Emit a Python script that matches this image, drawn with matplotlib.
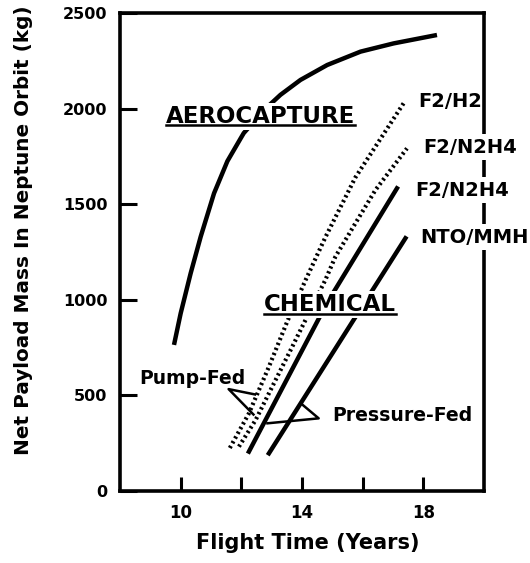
import matplotlib
matplotlib.use("Agg")
import matplotlib.pyplot as plt
from matplotlib.lines import Line2D

plt.rcParams['font.family'] = ['DejaVu Sans']
plt.rcParams['font.weight'] = 'bold'

# ---- data ----
aero_x = [9.78, 10.0, 10.33, 10.66, 11.10, 11.54, 11.98, 12.08, 12.80, 13.29, 13.95, 14.83, 15.93, 17.02, 18.45]
aero_y = [764, 929, 1139, 1330, 1557, 1725, 1845, 1872, 2000, 2072, 2150, 2228, 2298, 2341, 2385]

f2h2_x = [11.62, 12.25, 12.91, 13.51, 14.12, 14.78, 15.76, 17.35]
f2h2_y = [225, 406, 650, 885, 1104, 1330, 1640, 2028]

f2n2h4_pump_x = [11.92, 12.47, 13.02, 13.68, 14.17, 14.77, 15.10, 15.76, 16.42, 17.46]
f2n2h4_pump_y = [232, 371, 546, 755, 912, 1104, 1225, 1400, 1574, 1792]

f2n2h4_press_x = [12.25, 14.83, 17.13]
f2n2h4_press_y = [206, 985, 1583]

nto_mmh_x = [12.91, 17.41]
nto_mmh_y = [197, 1322]

pump_leader_x = [12.45, 11.58, 12.40]
pump_leader_y = [505, 533, 400]
press_leader_x = [13.95, 14.55, 12.86]
press_leader_y = [460, 380, 354]

x_ticks = [10, 12, 14, 16, 18]
x_ticklabels = ['10', '', '14', '', '18']
y_ticks = [0, 500, 1000, 1500, 2000, 2500]

fig = plt.figure(figsize=(5.30, 5.63), dpi=100)
ax = fig.add_axes([120/530, 1-491/563, 364/530, 478/563])

ax.plot(aero_x, aero_y, color='black', lw=3.2, solid_capstyle='butt', solid_joinstyle='round', zorder=2)
ax.plot(f2h2_x, f2h2_y, color='black', lw=3.0, linestyle=(0, (0.55, 0.75)), zorder=2)
ax.plot(f2n2h4_pump_x, f2n2h4_pump_y, color='black', lw=3.0, linestyle=(0, (0.55, 0.75)), zorder=2)
ax.plot(f2n2h4_press_x, f2n2h4_press_y, color='black', lw=3.2, zorder=2)
ax.plot(nto_mmh_x, nto_mmh_y, color='black', lw=3.2, zorder=2)
ax.plot(pump_leader_x, pump_leader_y, color='black', lw=1.8, zorder=2)
ax.plot(press_leader_x, press_leader_y, color='black', lw=1.8, zorder=2)

ax.set_xlim(8, 20)
ax.set_ylim(0, 2500)
ax.set_xticks(x_ticks)
ax.set_xticklabels(x_ticklabels)
ax.set_yticks(y_ticks)
ax.tick_params(axis='y', direction='in', length=12, width=2.2, pad=9, labelsize=11.5)
ax.tick_params(axis='x', direction='in', length=10, width=2.2, pad=9, labelsize=12)
for lab in ax.get_xticklabels() + ax.get_yticklabels():
    lab.set_fontweight('bold')
for s in ax.spines.values():
    s.set_linewidth(2.6)

ax.set_xlabel('Flight Time (Years)', fontsize=15, fontweight='bold')
ax.set_ylabel('Net Payload Mass In Neptune Orbit (kg)', fontsize=14.4, fontweight='bold')
ax.xaxis.set_label_coords(0.515, -0.088)
ax.yaxis.set_label_coords(-0.238, 0.546)

wb = dict(facecolor='white', edgecolor='none', pad=1.5)
t_aero = ax.text(9.51, 1960, 'AEROCAPTURE', fontsize=16.5, fontweight='bold',
                 va='center', ha='left', bbox=wb, zorder=3)
t_chem = ax.text(12.75, 975, 'CHEMICAL', fontsize=16.5, fontweight='bold',
                 va='center', ha='left', bbox=wb, zorder=3)

ax.text(8.65, 591, 'Pump-Fed', fontsize=13.5, fontweight='bold', va='center', ha='left', zorder=3)
ax.text(15.0, 397, 'Pressure-Fed', fontsize=13.6, fontweight='bold', va='center', ha='left', zorder=3)

rb = dict(facecolor='white', edgecolor='none', pad=2.5)
ax.text(17.83, 2035, 'F2/H2', fontsize=14, fontweight='bold', va='center', ha='left',
        clip_on=False, zorder=3)
ax.text(18.0, 1797, 'F2/N2H4', fontsize=14, fontweight='bold', va='center', ha='left',
        clip_on=False, bbox=rb, zorder=3)
ax.text(17.73, 1572, 'F2/N2H4', fontsize=14, fontweight='bold', va='center', ha='left',
        clip_on=False, bbox=rb, zorder=3)
ax.text(17.90, 1326, 'NTO/MMH', fontsize=14, fontweight='bold', va='center', ha='left',
        clip_on=False, bbox=rb, zorder=3)

# underline the two headings
fig.canvas.draw()
r = fig.canvas.get_renderer()
for t in (t_aero, t_chem):
    bb = t.get_window_extent(renderer=r)
    fs_px = t.get_fontsize() * fig.dpi / 72
    yl = bb.y0 + 0.236 * fs_px - 3.0
    x0, y0 = fig.transFigure.inverted().transform((bb.x0, yl))
    x1, _ = fig.transFigure.inverted().transform((bb.x1, yl))
    fig.add_artist(Line2D([x0, x1], [y0, y0], transform=fig.transFigure,
                          color='black', lw=1.8, zorder=5))

fig.savefig('out.png', dpi=100)
